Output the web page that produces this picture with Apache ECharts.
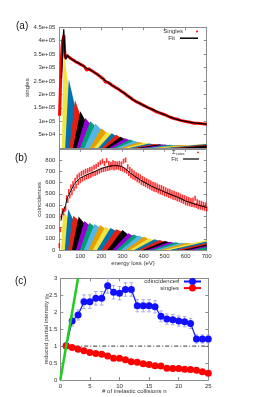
<!DOCTYPE html>
<html><head><meta charset="utf-8">
<script src="https://cdn.jsdelivr.net/npm/echarts@6/dist/echarts.min.js"></script>
<style>html,body{margin:0;padding:0;background:#fff}#c{width:255px;height:397px}</style>
</head><body><div id="c"></div>
<script>
// ================= DATA =================
const energyTicks = [0, 100, 200, 300, 400, 500, 600, 700];
const partialColors = ['#F0E442', '#0072B2', '#E51E10', '#000000', '#9400D3', '#009E73', '#56B4E9', '#E69F00'];

// Panel (a): partial intensity curves of the singles spectrum, [energy loss, counts] per curve
const singlesPartials = [
  [[12,0],[22,425000],[27,330000],[45,220000]],
  [[28,0],[45,256000],[75,155000]],
  [[48,0],[75,178000],[100,122000]],
  [[65,0],[100,137000],[124,102000]],
  [[82,0],[124,112000],[147,90000]],
  [[99,0],[147,100000],[171,82000]],
  [[119,0],[171,91000],[200,68000]],
  [[144,0],[200,74000],[225,56000]],
  [[165,0],[225,61000],[249,50000]],
  [[185,0],[249,55000],[270,45000]],
  [[202,0],[270,49000],[291,39000]],
  [[219,0],[291,42000],[312,33000]],
  [[236,0],[312,36000],[336,29000]],
  [[256,0],[336,32000],[356,25000]],
  [[272,0],[356,27000],[380,20000]],
  [[292,0],[380,22000],[404,18000]],
  [[312,0],[404,20000],[427,15500]],
  [[331,0],[427,17000],[451,13500]],
  [[351,0],[451,15000],[475,12500]],
  [[370,0],[475,14000],[500,11500]],
  [[390,0],[500,13000],[525,10500]],
  [[410,0],[525,12000],[550,10000]],
  [[430,0],[550,11500],[575,10000]],
  [[450,0],[575,11500],[610,10000]],
  [[470,0],[700,17000]],
  [[500,0],[700,14500]],
  [[530,0],[700,12000]],
  [[560,0],[700,9500]],
  [[590,0],[700,7000]],
  [[620,0],[700,5000]],
  [[650,0],[700,3000]]
];
// Singles measured spectrum
const singlesData = [[1,120000],[4,190000],[7,270000],[10,330000],[13,375000],[16,400000],[19,410000],[22,420000],[25,370000],[28,335000],[32,335000],[36,345000],[40,342000],[50,336000],[60,331000],[70,326000],[80,320000],[90,317000],[100,312000],[110,308000],[120,303000],[130,290000],[140,295000],[150,290000],[160,285000],[170,280000],[180,275000],[190,269000],[200,263000],[210,257000],[220,245000],[230,245000],[240,240000],[250,234000],[260,229000],[270,224000],[280,220000],[290,214000],[300,209000],[310,204000],[320,197000],[330,192000],[340,186000],[350,180000],[360,175000],[370,171000],[380,167000],[390,163000],[400,159000],[420,151000],[440,144000],[460,135000],[480,130000],[500,124000],[520,117000],[540,111000],[560,107000],[580,102000],[600,99000],[620,96000],[640,92000],[660,92000],[680,90000],[700,89000]];
// Singles fit
const singlesFit = [[10,260000],[14,330000],[18,400000],[21,443000],[24,400000],[27,345000],[30,330000],[34,338000],[38,347000],[43,342000],[50,336000],[60,330000],[75,323000],[100,313000],[125,300000],[150,290000],[175,278000],[200,263000],[225,248000],[250,234000],[275,222000],[300,209000],[325,195000],[350,180000],[375,169000],[400,159000],[425,149000],[450,141000],[475,132000],[500,124000],[525,116000],[550,109000],[575,103000],[600,99000],[625,95500],[650,93000],[675,91000],[700,89000]];

// Panel (b): partial intensity curves of the coincidence spectrum
const coincPartials = [
  [[8,0],[18,335],[42,290]],
  [[26,0],[42,365],[66,270]],
  [[42,0],[66,305],[92,265]],
  [[60,0],[92,297],[119,235]],
  [[79,0],[119,258],[143,220]],
  [[98,0],[143,243],[167,210]],
  [[117,0],[167,231],[193,200]],
  [[138,0],[193,222],[219,188]],
  [[159,0],[219,208],[243,178]],
  [[179,0],[243,195],[270,168]],
  [[202,0],[270,185],[300,160]],
  [[228,0],[300,178],[328,135]],
  [[252,0],[328,150],[352,125]],
  [[272,0],[352,138],[376,118]],
  [[292,0],[376,130],[402,106]],
  [[314,0],[402,118],[427,95]],
  [[335,0],[427,105],[452,86]],
  [[356,0],[452,96],[477,79]],
  [[377,0],[477,88],[502,72]],
  [[397,0],[502,80],[527,66]],
  [[417,0],[527,73],[552,61]],
  [[437,0],[552,68],[577,58]],
  [[457,0],[577,64],[602,57]],
  [[477,0],[602,62],[630,57]],
  [[497,0],[700,88]],
  [[525,0],[700,75]],
  [[555,0],[700,62]],
  [[585,0],[700,50]],
  [[610,0],[700,38]],
  [[635,0],[700,27]],
  [[660,0],[700,16]],
  [[680,0],[700,8]]
];
// Coincidence measured spectrum: energies 0..700 eV in steps of 5 eV
const coincStartE = 0, coincStepE = 5;
const coincValues = [40,180,300,350,330,360,370,465,440,520,
  480,560,510,590,545,620,570,650,600,665,
  615,680,630,690,640,700,650,705,655,715,
  665,720,675,735,680,745,690,760,700,775,
  710,790,715,770,720,795,725,770,730,760,
  735,775,730,770,735,765,735,770,725,765,
  720,790,710,800,700,740,680,715,660,700,
  650,685,640,670,625,660,615,650,600,635,
  590,625,580,615,570,605,560,595,550,585,
  540,580,535,570,525,560,515,555,510,545,
  500,535,495,525,485,520,480,510,470,505,
  465,495,455,490,450,480,440,470,430,465,
  420,455,415,450,410,440,405,445,400,460,
  395,430,385,420,380,415,375,405,370,400,
  365];
const coincFit = [[8,260],[12,310],[16,340],[20,352],[25,345],[30,395],[35,445],[40,472],[45,490],[50,505],[60,545],[70,580],[80,605],[90,625],[100,640],[115,655],[130,668],[145,680],[160,690],[175,703],[190,716],[205,727],[220,736],[235,743],[250,748],[265,750],[280,748],[295,742],[310,727],[325,705],[340,680],[355,660],[370,640],[385,622],[400,605],[420,585],[440,565],[460,548],[480,532],[500,515],[520,500],[540,485],[560,470],[580,452],[600,435],[620,422],[640,410],[660,398],[680,388],[700,378]];

// Panel (c): reduced partial intensities
const collisionsN = [1,2,3,4,5,6,7,8,9,10,11,12,13,14,15,16,17,18,19,20,21,22,23,24,25];
const coincGamma = [1.01,1.74,1.92,2.31,2.31,2.41,2.41,2.78,2.59,2.56,2.67,2.67,2.19,2.19,2.19,2.16,1.88,1.80,1.78,1.74,1.72,1.67,1.21,1.21,1.21];
const coincGammaErr = [0.05,0.15,0.15,0.2,0.2,0.2,0.2,0.22,0.2,0.2,0.2,0.2,0.18,0.18,0.18,0.18,0.16,0.15,0.15,0.15,0.15,0.15,0.12,0.12,0.12];
const singlesGamma = [1.00,0.96,0.91,0.86,0.81,0.78,0.76,0.71,0.64,0.64,0.60,0.54,0.52,0.48,0.46,0.42,0.41,0.35,0.34,0.34,0.32,0.31,0.29,0.24,0.20];
const singlesGammaErr = [0.02,0.04,0.05,0.05,0.05,0.05,0.05,0.05,0.05,0.05,0.05,0.04,0.04,0.04,0.04,0.04,0.04,0.03,0.03,0.03,0.03,0.03,0.03,0.03,0.03];
const poissonLine = [[0,0],[3,3]];
const unityLine = [[1,1],[25,1]];
const nTicks = [0,5,10,15,20,25];
const gammaTicks = [0,0.5,1,1.5,2,2.5,3];

// ================= CHART =================
const font = 'Liberation Sans, Arial, Helvetica, sans-serif';
const frameColor = '#8c8c8c';
const textColor = '#333';

function gnuExp(v){
  if (v === 0) return '';
  const e = Math.floor(Math.log10(v) + 1e-9);
  const m = +(v / Math.pow(10, e)).toFixed(2);
  return m + 'e+' + (e < 10 ? '0' : '') + e;
}
function axis(o, label){
  return Object.assign({
    type:'value',
    splitLine:{show:false},
    nameMoveOverlap:false,
    axisLine:{show:true, onZero:false, lineStyle:{color:frameColor, width:1}},
    axisTick:{show:true, inside:true, length:3, lineStyle:{color:frameColor, width:1}},
    axisLabel: Object.assign({show:false, fontSize:6, fontFamily:font, color:textColor}, label || {}),
    nameTextStyle:{fontSize:6, fontFamily:font, color:textColor}
  }, o);
}
const eMin = energyTicks[0], eMax = energyTicks[energyTicks.length-1], eInt = energyTicks[1]-energyTicks[0];

const xAxes = [
  axis({gridIndex:0, position:'bottom', min:eMin, max:eMax, interval:eInt}),
  axis({gridIndex:0, position:'top', min:eMin, max:eMax, interval:eInt}),
  axis({gridIndex:1, position:'bottom', min:eMin, max:eMax, interval:eInt, name:'energy loss (eV)', nameLocation:'middle', nameGap:10}, {show:true, margin:3}),
  axis({gridIndex:1, position:'top', min:eMin, max:eMax, interval:eInt}),
  axis({gridIndex:2, position:'bottom', min:nTicks[0], max:nTicks[nTicks.length-1], interval:nTicks[1]-nTicks[0], name:'# of inelastic collisions n', nameLocation:'middle', nameGap:8}, {show:true, margin:3}),
  axis({gridIndex:2, position:'top', min:nTicks[0], max:nTicks[nTicks.length-1], interval:nTicks[1]-nTicks[0]})
];
const yAxes = [
  axis({gridIndex:0, position:'left', min:0, max:450000, interval:50000, name:'singles', nameLocation:'middle', nameGap:29}, {show:true, margin:4, formatter:gnuExp}),
  axis({gridIndex:0, position:'right', min:0, max:450000, interval:50000}),
  axis({gridIndex:1, position:'left', min:0, max:900, interval:100, name:'coincidences', nameLocation:'middle', nameGap:17}, {show:true, margin:4, formatter:v => v === 900 ? '' : String(v)}),
  axis({gridIndex:1, position:'right', min:0, max:900, interval:100}),
  axis({gridIndex:2, position:'left', min:gammaTicks[0], max:gammaTicks[gammaTicks.length-1], interval:gammaTicks[1]-gammaTicks[0],
        name:'{t|reduced partial intensity γ}{s|n}', nameLocation:'middle', nameGap:10}, {show:true, margin:3}),
  axis({gridIndex:2, position:'right', min:gammaTicks[0], max:gammaTicks[gammaTicks.length-1], interval:gammaTicks[1]-gammaTicks[0]})
];
yAxes[4].nameTextStyle = {fontSize:6, fontFamily:font, color:textColor, rich:{t:{fontSize:6, fontFamily:font, color:textColor}, s:{fontSize:4.5, fontFamily:font, color:textColor, padding:[3,0,0,0]}}};

function partialSeries(curves, xi, yi){
  return curves.map((pts, k) => ({
    type:'line', xAxisIndex:xi, yAxisIndex:yi, data:pts, symbol:'none', silent:true,
    lineStyle:{width:0, opacity:0},
    itemStyle:{color:partialColors[k % partialColors.length]},
    areaStyle:{color:partialColors[k % partialColors.length], opacity:1},
    z:1
  }));
}
function errorBars(ns, vals, errs, color, xi, yi){
  return {
    type:'custom', xAxisIndex:xi, yAxisIndex:yi, silent:true, z:2,
    data: ns.map((n,i) => [n, vals[i]-errs[i], vals[i]+errs[i]]),
    encode:{x:0, y:[1,2]},
    renderItem:(params, api) => {
      const lo = api.coord([api.value(0), api.value(1)]);
      const hi = api.coord([api.value(0), api.value(2)]);
      const cw = 1.8;
      const st = {stroke:color, lineWidth:1};
      return {type:'group', children:[
        {type:'line', shape:{x1:lo[0], y1:lo[1], x2:hi[0], y2:hi[1]}, style:st},
        {type:'line', shape:{x1:lo[0]-cw, y1:lo[1], x2:lo[0]+cw, y2:lo[1]}, style:st},
        {type:'line', shape:{x1:hi[0]-cw, y1:hi[1], x2:hi[0]+cw, y2:hi[1]}, style:st}
      ]};
    }
  };
}

const coincData = coincValues.map((v,i) => [coincStartE + i*coincStepE, v]);

const series = [].concat(
  partialSeries(singlesPartials, 0, 0),
  [{name:'Singles', type:'line', xAxisIndex:0, yAxisIndex:0, data:singlesData, symbol:'none', silent:true,
    lineStyle:{color:'#ff0000', width:3}, itemStyle:{color:'#ff0000'}, z:3},
   {name:'Fit', type:'line', xAxisIndex:0, yAxisIndex:0, data:singlesFit, symbol:'none', silent:true,
    lineStyle:{color:'#000', width:1.3}, itemStyle:{color:'#000'}, z:4}],
  partialSeries(coincPartials, 2, 2),
  [{name:'Σcoinc', type:'scatter', xAxisIndex:2, yAxisIndex:2, data:coincData, symbol:'rect', symbolSize:[1.6,5], silent:true,
    itemStyle:{color:'#ff0000'}, z:3},
   {name:'Fit', type:'line', xAxisIndex:2, yAxisIndex:2, data:coincFit, symbol:'none', silent:true,
    lineStyle:{color:'#000', width:1}, itemStyle:{color:'#000'}, z:4}],
  [errorBars(collisionsN, coincGamma, coincGammaErr, '#a9a9e6', 4, 4),
   errorBars(collisionsN, singlesGamma, singlesGammaErr, '#f2a3a3', 4, 4),
   {type:'line', xAxisIndex:4, yAxisIndex:4, data:unityLine, symbol:'none', silent:true,
    lineStyle:{color:'#000', width:0.8, type:[4,2,1,2]}, z:2},
   {name:'coincidences', type:'line', xAxisIndex:4, yAxisIndex:4, data:collisionsN.map((n,i)=>[n, coincGamma[i]]),
    symbol:'circle', symbolSize:7, silent:true, lineStyle:{color:'#1010ff', width:1.2}, itemStyle:{color:'#1010ff'}, z:3},
   {name:'singles', type:'line', xAxisIndex:4, yAxisIndex:4, data:collisionsN.map((n,i)=>[n, singlesGamma[i]]),
    symbol:'circle', symbolSize:7, silent:true, lineStyle:{color:'#ff0000', width:1.2}, itemStyle:{color:'#ff0000'}, z:3},
   {type:'line', xAxisIndex:4, yAxisIndex:4, data:poissonLine, symbol:'none', silent:true,
    lineStyle:{color:'#22cc22', width:2.5}, z:5}]
);

function legendItem(name, icon, right, top, w, h, extra){
  return Object.assign({
    data:[icon ? {name:name, icon:icon} : {name:name}],
    orient:'vertical', align:'right', right:right, top:top, itemWidth:w, itemHeight:h, padding:0,
    selectedMode:false, textStyle:{fontSize:6, fontFamily:font, color:textColor}
  }, extra || {});
}

const option = {
  animation:false,
  backgroundColor:'#fff',
  grid:[
    {left:59.3, top:27.3, width:147.4, height:120.7},
    {left:59.3, top:148.75, width:147.4, height:101.25},
    {left:60.3, top:278.3, width:148, height:101.7}
  ],
  xAxis:xAxes,
  yAxis:yAxes,
  legend:[
    legendItem('Singles', 'circle', 57, 28.5, 18, 2),
    legendItem('Fit', 'rect', 57, 35.2, 18, 1.5),
    legendItem('Σcoinc', 'circle', 56, 149.5, 16, 2, {formatter:()=>'{a|Σ}{b|coinc}', textStyle:{fontSize:6, fontFamily:font, color:textColor,
      rich:{a:{fontSize:6, fontFamily:font, color:textColor}, b:{fontSize:4, fontFamily:font, color:textColor, padding:[3,0,0,0]}}}}),
    legendItem('Fit', 'rect', 56, 156, 16, 1.2),
    legendItem('coincidences', null, 53, 278, 17, 8.75),
    legendItem('singles', null, 53, 284.6, 17, 8.75)
  ],
  graphic:[
    {type:'text', left:16, top:21.5, style:{text:'(a)', font:'10px ' + font, fill:'#111'}},
    {type:'text', left:15, top:153, style:{text:'(b)', font:'10px ' + font, fill:'#111'}},
    {type:'text', left:15, top:276.5, style:{text:'(c)', font:'10px ' + font, fill:'#111'}}
  ],
  series:series
};
const chart = echarts.init(document.getElementById('c'), null, {renderer:'canvas'});
chart.setOption(option);
</script>
</body></html>
